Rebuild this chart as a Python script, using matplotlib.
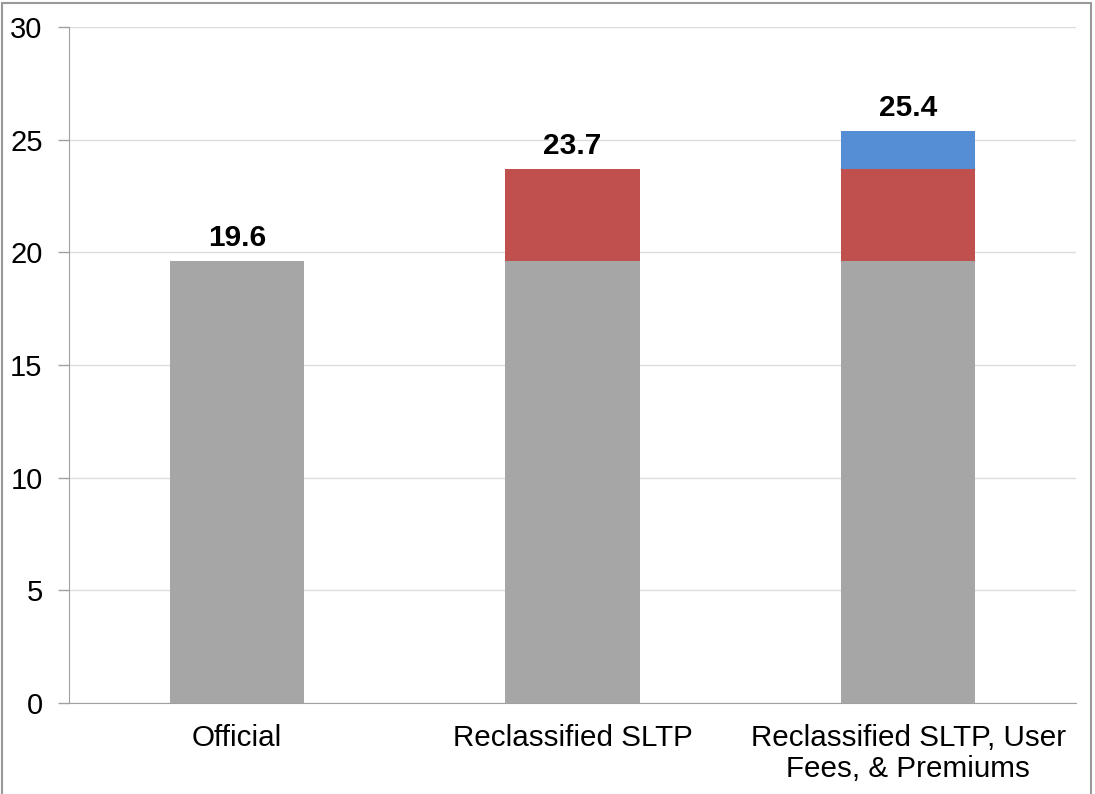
import matplotlib
matplotlib.use("Agg")
import matplotlib.pyplot as plt
from matplotlib.patches import Rectangle

plt.rcParams['font.family'] = ['Liberation Sans', 'DejaVu Sans']

categories = ["Official", "Reclassified SLTP", "Reclassified SLTP, User\nFees, & Premiums"]
official = [19.6, 19.6, 19.6]
sltp = [0.0, 4.1, 4.1]
fees = [0.0, 0.0, 1.7]
totals = ["19.6", "23.7", "25.4"]

fig = plt.figure(figsize=(10.95, 7.94), dpi=100)
ax = fig.add_axes([0.063, 0.1146, 0.9196, 0.8514])

x = list(range(len(categories)))
w = 0.40
ax.bar(x, official, width=w, color="#A6A6A6", zorder=3)
ax.bar(x, sltp, width=w, bottom=official, color="#C0504D", zorder=3)
bottom2 = [a + b for a, b in zip(official, sltp)]
ax.bar(x, fees, width=w, bottom=bottom2, color="#558ED5", zorder=3)

tops = [a + b + c for a, b, c in zip(official, sltp, fees)]
for xi, t, lab in zip(x, tops, totals):
    ax.text(xi, t + 0.4, lab, ha="center", va="bottom", fontsize=21.5, fontweight="bold", color="black")

ax.set_xlim(-0.5, 2.5)
ax.set_ylim(0, 30)
ax.set_yticks(range(0, 31, 5))
ax.set_xticks(x)
ax.set_xticklabels(categories, fontsize=21.3, linespacing=1.15)
ax.tick_params(axis="y", labelsize=21, length=8, color="#A0A0A0", width=1, pad=11)
ax.tick_params(axis="x", length=0, pad=15)
ax.yaxis.grid(True, color="#DCDCDC", linewidth=1, zorder=0)
ax.set_axisbelow(True)
for s in ["top", "right"]:
    ax.spines[s].set_visible(False)
ax.spines["left"].set_color("#A0A0A0")
ax.spines["bottom"].set_color("#A0A0A0")

fig.patches.append(Rectangle((0.002, -0.1), 0.996 - 0.002, 0.996 + 0.1, transform=fig.transFigure,
                             fill=False, edgecolor="#999999", linewidth=1.5))

fig.savefig("out.png", dpi=100)
